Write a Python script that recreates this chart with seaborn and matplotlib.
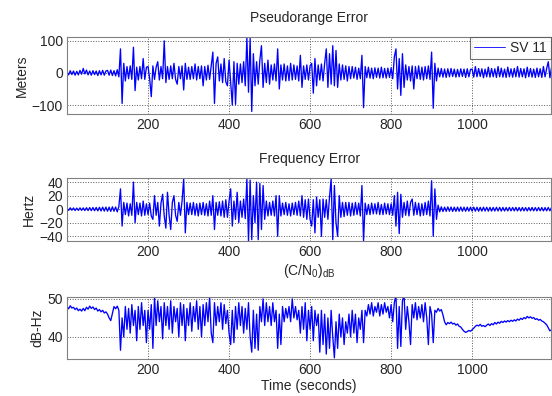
import numpy as np
import matplotlib
matplotlib.use("Agg")
import matplotlib.pyplot as plt
import seaborn as sns

# values, one sample every 4 seconds
step = 4

# Pseudorange error (m)
pseudorange = [
    3, -6, 7, -5, 6, -7, 5, -6, 8, -4, 14, -3, 9, -6, 6, -7, 7, -5, 6, -8, 7, -6, 8, -7, 6,
    8, -7, 9, -8, 7, -9, 10, -12, 75, -95, 30, -25, 20, -18, 22, -20, 80, -55, 18, -22, 20, -18, 45, -20, 18,
    20, -18, -74, 22, -20, 18, 35, -22, 20, -18, 100, -30, 20, -20, 22, -18, 30, -20, -35, 20, -18, 22, -53, 30, -20,
    18, -20, 20, -18, 28, -22, 20, -18, 22, -40, 20, -22, 24, -20, 22, 65, -95, 30, 50, -25, 28, -30, 45, -28, -40,
    40, -30, -100, 35, -98, 30, -35, 28, -30, 35, -40, 110, -60, 108, -120, 60, -40, 35, -35, 40, 85, -45, 30, -30, 40,
    -35, 25, -22, 28, -25, 75, -50, 25, -22, 28, -25, 22, -24, 30, -22, 25, -20, 22, -25, 55, -45, 22, -20, 25, -22,
    22, 30, -63, 45, -40, 25, -22, 28, -25, 30, 75, -45, 60, -35, 85, -40, 70, -45, 28, -22, 25, -20, 22, -25, 20,
    -18, 20, -16, 18, -20, 15, -18, 55, -108, 20, -15, 18, -16, 15, -18, 16, -14, 15, -16, 18, -15, 14, -16, 15, -14,
    16, -18, 50, 75, -50, 45, -70, 60, -45, 25, -22, 20, -25, 22, -50, 20, -18, 22, -20, 18, -22, 20, -18, 22, -20,
    65, -110, 30, -25, 15, -12, 14, -13, 12, -14, 13, -12, 14, -11, 12, -13, 11, -12, 13, -11, 12, -14, 13, -12, 11,
    12, -13, 20, -12, 14, -11, 13, -15, 12, -12, 18, -13, 14, -12, 13, -14, 20, -12, 15, -13, 12, -14, 18, -12, 13,
    -13, 14, -12, 20, -13, 14, -12, 13, -15, 18, -12, 14, -13, 12, -14, 15, -12, 13, -14, 20, -12, 14, 35, -15, 18,
]

# Frequency error (Hz)
frequency = [
    1.5, -1.8, 2, -1.5, 1.8, -2, 1.6, -1.8, 2, -1.7, 1.9, -2, 2.2, -2, 2.4, -2.2, 2.5, -2.3, 2.6, -2.5, 2.8, -2.6, 3, -2.8, 3,
    -3, 3, -3.2, 3.5, -3, 3.2, -4, 4, 30, -25, 10, -8, 9, -10, 8, -9, 40, -20, 10, -8, 9, -10, 12, -9, 8,
    -8, 9, -10, -15, 20, -9, 10, -25, 9, 22, -10, -28, 25, -9, -30, 10, 20, -9, -18, 10, -9, 12, 45, -35, 10,
    -8, 9, -8, 10, -9, 8, -10, 9, -8, 10, -9, 8, -10, 12, -9, 20, -30, 10, -9, 11, -10, 12, -12, 14, -12,
    12, 30, -25, 12, -15, 25, -20, 12, -12, 15, -14, 45, -47, 43, -45, 20, -20, 40, -45, 38, -30, 35, -15, 12, -10,
    10, -9, 12, -10, 20, -40, 20, -10, 9, -8, 10, -9, 8, -10, 9, -8, 10, -9, 12, -10, 20, -12, 14, -15, 15,
    -15, -25, 14, -35, 18, -12, 14, -40, 15, -12, 14, -15, 18, 45, -45, 35, -20, -40, 20, -12, 10, -11, 10, -9, 10,
    -10, 9, -9, 10, -8, 9, -10, 35, -47, 9, -8, 7, -8, 9, -7, 8, -7, 10, -8, 7, -8, 9, -7, 8, -8,
    8, -9, 20, -25, 25, -36, 22, -12, 10, -9, 12, -10, 10, 15, -9, 10, -8, 9, -10, 8, -9, 10, -8, 12, -10,
    42, -40, 30, -15, 6, -4, 3.5, -3.5, 3, -3.2, 3.4, -3, 3.2, -3.3, 3, -3.2, 3.1, -3, 3.2, -3, 2.9, -3.1, 3, -2.8, 3,
    -2.8, 3, -2.9, 2.8, -3, 2.7, -2.8, 3, -2.7, 2.8, -2.9, 2.7, -2.8, 2.6, -2.7, 2.8, -2.6, 2.7, -2.8, 2.6, -2.7, 2.5, -2.6, 2.7, -2.5,
    2.6, -2.5, 2.7, -2.6, 2.5, -2.7, 2.6, -2.5, 2.4, -2.6, 2.5, -2.4, 2.6, -2.5, 2.4, -2.6, 2.5, -2.4, 2.5, -2.6, 2.4, -2.5, 2.6, -2.4, 2.5,
]

# C/N0 (dB-Hz)
cn0 = [
    48, 47.4, 48.2, 47.6, 47.8, 47.2, 47.6, 46.9, 47.3, 46.8, 47.5, 46.9, 47.8, 47.3, 48.1, 47.5, 47.9, 47.2, 47.6, 46.8, 47.2, 46.6, 47.0, 46.3, 46.6,
    46, 45, 44.3, 46.2, 48, 47.4, 48.1, 47, 36.5, 45, 40, 48, 42, 47.5, 41, 48.5, 43, 47, 39, 48, 42, 49, 43, 47, 38.5,
    47, 42, 48.5, 37, 50.5, 43, 49.5, 44, 48, 39.5, 49, 43, 48, 42, 49.5, 41, 48, 44, 47.5, 40, 49, 43, 48.5, 39, 47.5,
    43, 49, 41.5, 48, 44, 49.5, 42, 48, 40, 48.5, 43, 49, 44, 50.5, 41, 38.5, 49, 43, 48, 44, 49, 42, 48.5, 43.5, 47,
    41, 38, 47, 38.5, 48, 42, 49, 43, 48, 41, 47.5, 42, 49, 40, 36, 47, 37, 46, 36.5, 48, 44, 50, 43, 49, 44,
    48, 43, 49, 44, 47, 37, 46, 38, 48, 44, 47.5, 45, 48, 44, 50, 45, 48, 44.5, 47, 41, 48, 42, 49, 39, 47,
    42, 48, 39, 47, 43, 46, 36, 47, 38, 46, 35.5, 45, 37, 47, 40, 34.5, 44, 37, 46, 40, 45, 38, 44, 41, 46,
    40, 47, 41, 46, 38.5, 45, 42, 47, 38.5, 47, 45.5, 48.5, 46, 49, 45.5, 48, 46.5, 49, 45.5, 48.5, 46, 49, 46.5, 48, 45,
    48.5, 44, 49, 51, 37, 48, 37.5, 49.5, 51, 42, 48, 44, 38, 48.5, 45, 49, 44.5, 48, 45, 48.5, 44, 49, 45, 38, 48,
    46, 38.5, 47, 46.5, 47.5, 46.8, 47.2, 45.8, 44, 43.2, 43.8, 43.5, 43.9, 43.4, 43.6, 43.1, 43.4, 42.8, 42.6, 42, 41.5, 41.2, 41.4, 41.7, 41.5,
    41.9, 42.3, 42.8, 43.1, 42.9, 43.3, 42.8, 43.0, 42.7, 43.1, 43.4, 43.0, 43.5, 43.2, 43.8, 43.4, 43.9, 43.6, 44.1, 43.8, 44.2, 43.9, 44.3, 44.0, 44.4,
    44.1, 44.5, 44.2, 44.7, 44.4, 44.9, 44.6, 45.1, 44.8, 45.4, 45.0, 45.3, 44.9, 45.1, 44.6, 44.8, 44.4, 44.6, 44.2, 44.0, 43.6, 43.2, 42.4, 41.6, 41.9,
]

xticks = [200, 400, 600, 800, 1000]

sns.set_style("white")
plt.rcParams["font.family"] = ["Liberation Sans", "DejaVu Sans"]
plt.rcParams["mathtext.default"] = "regular"
plt.rcParams["font.size"] = 10

t = np.arange(len(pseudorange)) * step

fig = plt.figure(figsize=(5.52, 3.96), dpi=100)
ax1 = fig.add_axes([0.1214, 0.7121, 0.877, 0.1944])
ax2 = fig.add_axes([0.1214, 0.3914, 0.877, 0.1590])
ax3 = fig.add_axes([0.1214, 0.0934, 0.877, 0.1566])

lw = 0.95
sns.lineplot(x=t, y=pseudorange, ax=ax1, color="blue", lw=lw, estimator=None, sort=False, label="SV 11")
sns.lineplot(x=t, y=frequency, ax=ax2, color="blue", lw=lw, estimator=None, sort=False)
sns.lineplot(x=t, y=cn0, ax=ax3, color="blue", lw=lw, estimator=None, sort=False)

ax1.set_ylim(-128, 112)
ax1.set_yticks([-100, 0, 100])
ax2.set_ylim(-47, 46)
ax2.set_yticks([-40, -20, 0, 20, 40])
ax3.set_ylim(34.2, 50.5)
ax3.set_yticks([40, 50])

titles = ["Pseudorange Error", "Frequency Error", "(C/N$_0$)$_{dB}$"]
pads = [11, 11, 16]
ylabels = ["Meters", "Hertz", "dB-Hz"]
for ax, title, pad, ylab in zip([ax1, ax2, ax3], titles, pads, ylabels):
    ax.set_xlim(0, 1195)
    ax.set_xticks(xticks)
    ax.set_title(title, fontsize=10, color="0.15", pad=pad)
    ax.set_ylabel(ylab, fontsize=10, color="0.15", labelpad=2)
    ax.grid(True, linestyle=":", color="0.35", lw=0.7)
    ax.tick_params(direction="in", length=2, colors="0.15", labelsize=10, pad=3)
    for s in ax.spines.values():
        s.set_color("0.5")
        s.set_linewidth(0.8)

ax3.set_xlabel("Time (seconds)", fontsize=10, color="0.15", labelpad=1)

leg = ax1.legend(loc="upper right", frameon=True, fancybox=False, borderaxespad=0,
                 handlelength=2.2, handletextpad=0.4, borderpad=0.3, fontsize=10)
leg.get_frame().set_edgecolor("0.3")
leg.get_frame().set_linewidth(0.8)
for line in leg.get_lines():
    line.set_linewidth(0.6)

fig.savefig("out.png", dpi=100)
